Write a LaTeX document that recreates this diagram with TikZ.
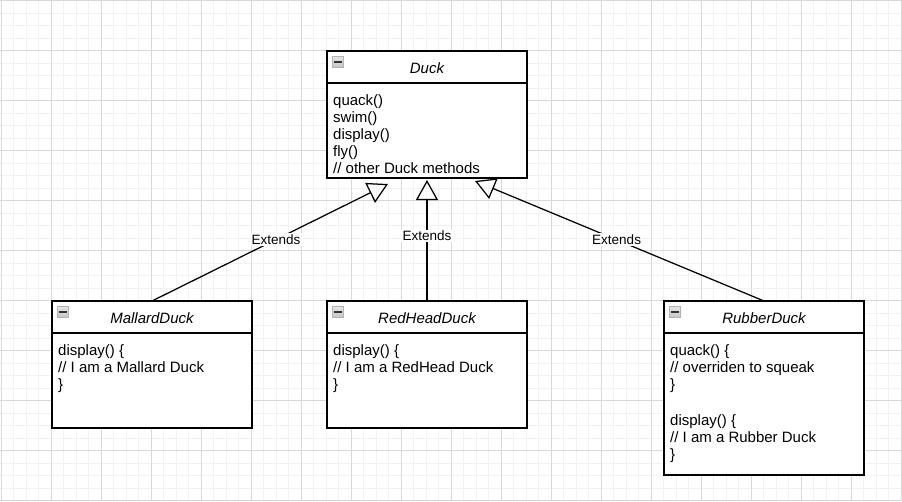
\documentclass[tikz,border=0pt]{standalone}
\usepackage{fontspec}
\setmainfont{Liberation Sans}
\usetikzlibrary{arrows.meta,calc}

\begin{document}
\begin{tikzpicture}
  [x=1pt,y=-1pt,
   minor/.style={draw={rgb,255:red,242;green,242;blue,242},line width=0.7pt},
   major/.style={draw={rgb,255:red,216;green,216;blue,216},line width=0.8pt},
   head/.style={draw=black,fill=white,line width=1.25pt,minimum width=200pt,minimum height=32pt,
     anchor=north west,inner sep=0pt,outer sep=0pt},
   body/.style={draw=black,fill=white,line width=1.25pt,minimum width=200pt,
     anchor=north west,inner sep=0pt,outer sep=0pt},
   title/.style={font=\fontsize{15}{17}\selectfont\itshape,anchor=base,inner sep=0pt},
   members/.style={font=\fontsize{15}{17}\selectfont,align=left,anchor=north west,inner sep=0pt},
   icon/.style={draw=gray!60,top color=gray!20,bottom color=gray!45,line width=0.8pt},
   lbl/.style={fill=white,font=\fontsize{13.5}{16}\selectfont,inner sep=1.5pt},
   extends/.style={line width=1.25pt,-{Triangle[open,length=20pt,width=22pt]}}]

  \useasboundingbox (0,0) rectangle (902,501);

  % grid
  \foreach \x in {1,13.5,...,901} \draw[minor] (\x,0) -- (\x,501);
  \foreach \y in {0.5,13,...,501} \draw[minor] (0,\y) -- (902,\y);
  \foreach \x in {1,51,...,901} \draw[major] (\x,0) -- (\x,501);
  \foreach \y in {0.5,50.5,...,501} \draw[major] (0,\y) -- (902,\y);

  % classes
  \node[head] (duck) at (327,51) {};
  \node[body,minimum height=95pt] (duckbody) at (327,83) {};
  \node[title] (ducktitle) at (427,73) {Duck};
  \node[members] (duckops) at (333,93)
    {\rule{0pt}{12pt}quack()\\swim()\\display()\\fly()\\// other Duck methods};

  \node[head] (mallard) at (52,301) {};
  \node[body,minimum height=95pt] (mallardbody) at (52,333) {};
  \node[title] (mallardtitle) at (152,323) {MallardDuck};
  \node[members] (mallardops) at (58,343)
    {\rule{0pt}{12pt}display() \{\\// I am a Mallard Duck\\\}};

  \node[head] (redhead) at (327,301) {};
  \node[body,minimum height=95pt] (redheadbody) at (327,333) {};
  \node[title] (redheadtitle) at (427,323) {RedHeadDuck};
  \node[members] (redheadops) at (333,343)
    {\rule{0pt}{12pt}display() \{\\// I am a RedHead Duck\\\}};

  \node[head] (rubber) at (664,301) {};
  \node[body,minimum height=142pt] (rubberbody) at (664,333) {};
  \node[title] (rubbertitle) at (764,323) {RubberDuck};
  \node[members] (rubberops) at (670,343)
    {\rule{0pt}{12pt}quack() \{\\// overriden to squeak\\\}\\[19pt]display() \{\\// I am a Rubber Duck\\\}};

  % collapse icons
  \foreach \c in {duck,mallard,redhead,rubber}
  {
    \draw[icon] ($(\c.north west)+(5,5.5)$) rectangle +(11.5,10.5);
    \draw[line width=1.4pt,black!80] ($(\c.north west)+(7,11)$) -- +(7.5,0);
  }

  % inheritance
  \coordinate (tipA) at (388,184);
  \coordinate (tipB) at (427,180);
  \coordinate (tipC) at (475,181);

  \foreach \from/\to/\where/\name in {mallard/tipA/0.525/lblA,redhead/tipB/0.537/lblB,rubber/tipC/0.51/lblC}
    \draw[extends] (\from.north) -- node[lbl,pos=\where] (\name) {Extends} (\to);

\end{tikzpicture}
\end{document}
